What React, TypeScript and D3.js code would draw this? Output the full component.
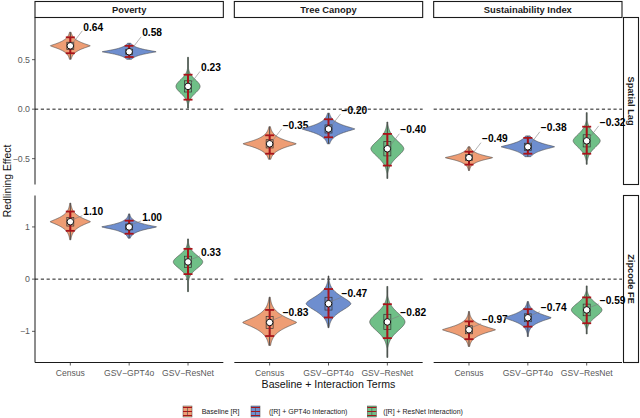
import React from "react";
import * as d3 from "d3";

// ---------- data ----------
const models = ["Spatial Lag", "Zipcode FE"];
const outcomes = ["Poverty", "Tree Canopy", "Sustainability Index"];
const categories = ["Census", "GSV\u2212GPT4o", "GSV\u2212ResNet"];
const legendLabels = ["Baseline [R]", "([R] + GPT4o Interaction)", "([R] + ResNet Interaction)"];
const fillColors = ["#EE9D74", "#6E8ECF", "#6FBF87"];

// per model, per outcome, per category
const meanValues = [
  [[0.64, 0.58, 0.23], [-0.35, -0.20, -0.40], [-0.49, -0.38, -0.32]],
  [[1.10, 1.00, 0.33], [-0.83, -0.47, -0.82], [-0.97, -0.74, -0.59]],
];
const ciLow = [
  [[0.565, 0.527, 0.096], [-0.45, -0.284, -0.57], [-0.56, -0.45, -0.45]],
  [[0.925, 0.87, 0.096], [-1.09, -0.735, -1.13], [-1.15, -0.91, -0.845]],
];
const ciHigh = [
  [[0.726, 0.64, 0.348], [-0.264, -0.102, -0.25], [-0.43, -0.29, -0.177]],
  [[1.295, 1.12, 0.58], [-0.59, -0.19, -0.48], [-0.81, -0.575, -0.35]],
];
const tailLow = [
  [[0.504, 0.504, 0.01], [-0.506, -0.35, -0.70], [-0.62, -0.48, -0.557]],
  [[0.753, 0.785, -0.24], [-1.27, -0.93, -1.5], [-1.29, -1.1, -1.05]],
];
const tailHigh = [
  [[0.777, 0.666, 0.524], [-0.177, -0.04, -0.13], [-0.38, -0.27, -0.035]],
  [[1.456, 1.25, 0.77], [-0.345, 0.06, -0.14], [-0.62, -0.43, -0.13]],
];
// maximal violin half-width as share of the category step
const violinWidth = [
  [[0.34, 0.46, 0.205], [0.455, 0.45, 0.28], [0.405, 0.455, 0.23]],
  [[0.345, 0.47, 0.25], [0.46, 0.38, 0.30], [0.45, 0.40, 0.26]],
];
// density peakedness (1 = sharp kite, 2 = rounded)
const violinShape = [
  [[1.2, 1.2, 1.9], [1.2, 1.2, 1.7], [1.2, 1.2, 1.7]],
  [[1.2, 1.2, 1.8], [1.25, 1.6, 1.8], [1.25, 1.25, 1.8]],
];
const yDomains = [[-0.761, 0.926], [-1.597, 1.602]];
const yTicks = [[-0.5, 0, 0.5], [-1, 0, 1]];
const yTickFormats = [".1f", ".0f"];

// ---------- layout ----------
const W = 640, H = 418;
const plotLeft = 35, plotRight = 622, colGap = 11;
const colW = (plotRight - plotLeft - 2 * colGap) / 3;
const rowTops = [17.5, 195.5];
const rowH = 167;
const FONT = "'Liberation Sans', Arial, Helvetica, sans-serif";
const fmtLabel = (v: number) => d3.format(".2f")(v).replace("-", "\u2212");
const errColor = "#A8141A";

function Violin({ cx, y, mean, lo, hi, tLo, tHi, hw, p, fill }: any) {
  const s = Math.abs(y(hi) - y(lo)) / 3.6;
  const y0 = y(tHi), y1 = y(tLo), ym = y(mean);
  const n = 90;
  const pts = d3.range(n + 1).map((i) => {
    const py = y0 + ((y1 - y0) * i) / n;
    const z = Math.abs(py - ym) / s;
    const w = Math.max(0.5, hw * Math.exp(-Math.pow(z, p) / p));
    return [py, w];
  });
  const area = d3
    .area<number[]>()
    .y((d) => d[0])
    .x0((d) => cx - d[1])
    .x1((d) => cx + d[1])
    .curve(d3.curveCatmullRom);
  return <path d={area(pts) || ""} fill={fill} stroke="#4a4a4a" strokeWidth={0.6} />;
}

export default function App() {
  const xScales = outcomes.map((_, c) =>
    d3
      .scalePoint<string>()
      .domain(categories)
      .range([plotLeft + c * (colW + colGap), plotLeft + c * (colW + colGap) + colW])
      .padding(0.6)
  );
  const step = xScales[0].step();
  const yScales = models.map((_, r) =>
    d3.scaleLinear().domain(yDomains[r]).range([rowTops[r] + rowH, rowTops[r]])
  );

  const legendX = [183, 251, 367.3];
  const legendTextX = [201.7, 269, 383.3];

  return (
    <svg width={W} height={H} style={{ display: "block", position: "absolute", left: 0, top: 0 }} fontFamily={FONT}>
      <rect width={W} height={H} fill="white" />
      {/* top strips */}
      {outcomes.map((o, c) => {
        const x0 = plotLeft + c * (colW + colGap);
        return (
          <g key={o}>
            <rect x={x0} y={1.5} width={colW} height={16} fill="white" stroke="#1a1a1a" strokeWidth={1.1} />
            <text x={x0 + colW / 2} y={12.8} textAnchor="middle" fontSize={9.4} fontWeight="bold" fill="#1a1a1a">
              {o}
            </text>
          </g>
        );
      })}
      {/* right strips */}
      {models.map((m, r) => (
        <g key={m}>
          <rect x={623.5} y={rowTops[r]} width={15} height={rowH} fill="white" stroke="#1a1a1a" strokeWidth={1.1} />
          <text
            transform={`translate(${627.6},${rowTops[r] + rowH / 2}) rotate(90)`}
            textAnchor="middle"
            fontSize={9.2}
            fontWeight="bold"
            fill="#1a1a1a"
          >
            {m}
          </text>
        </g>
      ))}
      {models.map((m, r) => {
        const y = yScales[r];
        return (
          <g key={"row" + m}>
            {/* y axis */}
            <line x1={plotLeft} x2={plotLeft} y1={rowTops[r]} y2={rowTops[r] + rowH} stroke="#1a1a1a" strokeWidth={1} />
            {yTicks[r].map((t) => (
              <g key={t}>
                <line x1={plotLeft - 3} x2={plotLeft} y1={y(t)} y2={y(t)} stroke="#333" strokeWidth={0.8} />
                <text x={plotLeft - 5} y={y(t) + 3} textAnchor="end" fontSize={8.8} fill="#5a5a5a">
                  {d3.format(yTickFormats[r])(t).replace("-", "\u2212")}
                </text>
              </g>
            ))}
            {outcomes.map((o, c) => {
              const x = xScales[c];
              const x0 = plotLeft + c * (colW + colGap);
              return (
                <g key={o}>
                  <line x1={x0} x2={x0 + colW} y1={y(0)} y2={y(0)} stroke="#000" strokeWidth={0.9} strokeDasharray="3.2,2.6" />
                  {categories.map((cat, k) => {
                    const cx = x(cat)!;
                    const mean = meanValues[r][c][k];
                    const lo = ciLow[r][c][k];
                    const hi = ciHigh[r][c][k];
                    const s = Math.abs(y(hi) - y(lo)) / 4;
                    const py = y(mean);
                    const tx = cx + 13;
                    const ty = py + (r === 0 ? -19 : -10);
                    return (
                      <g key={cat}>
                        <Violin
                          cx={cx}
                          y={y}
                          mean={mean}
                          lo={lo}
                          hi={hi}
                          tLo={tailLow[r][c][k]}
                          tHi={tailHigh[r][c][k]}
                          hw={violinWidth[r][c][k] * step}
                          p={violinShape[r][c][k]}
                          fill={fillColors[k]}
                        />
                        <line x1={cx} x2={cx} y1={y(tailHigh[r][c][k])} y2={y(tailLow[r][c][k])} stroke="#4a4a4a" strokeWidth={1} />
                        <rect x={cx - 3.5} y={py - 0.9 * s} width={7} height={1.8 * s} fill="none" stroke="#333" strokeWidth={0.7} />
                        <line x1={cx} x2={cx} y1={y(hi)} y2={y(lo)} stroke={errColor} strokeWidth={2} />
                        <line x1={cx - 4.5} x2={cx + 4.5} y1={y(hi)} y2={y(hi)} stroke={errColor} strokeWidth={1.8} />
                        <line x1={cx - 4.5} x2={cx + 4.5} y1={y(lo)} y2={y(lo)} stroke={errColor} strokeWidth={1.8} />
                        <circle cx={cx} cy={py} r={3.3} fill="white" stroke="#111" strokeWidth={1} />
                        <line x1={cx + 2} x2={tx - 1} y1={py - 2} y2={ty + 4} stroke="#808080" strokeWidth={0.6} />
                        <text x={tx} y={ty + 3.7} fontSize={10.2} fontWeight="bold" fill="#000">
                          {fmtLabel(mean)}
                        </text>
                      </g>
                    );
                  })}
                </g>
              );
            })}
          </g>
        );
      })}
      {/* x axes */}
      {outcomes.map((o, c) => {
        const x = xScales[c];
        const x0 = plotLeft + c * (colW + colGap);
        const yb = rowTops[1] + rowH;
        return (
          <g key={"xa" + o}>
            <line x1={x0} x2={x0 + colW} y1={yb} y2={yb} stroke="#1a1a1a" strokeWidth={1} />
            {categories.map((cat) => (
              <g key={cat}>
                <line x1={x(cat)!} x2={x(cat)!} y1={yb} y2={yb + 3} stroke="#333" strokeWidth={0.8} />
                <text x={x(cat)!} y={yb + 13.5} textAnchor="middle" fontSize={8.6} fill="#5a5a5a">
                  {cat}
                </text>
              </g>
            ))}
          </g>
        );
      })}
      <text x={(plotLeft + plotRight) / 2} y={388} textAnchor="middle" fontSize={10.6} fill="#111">
        Baseline + Interaction Terms
      </text>
      <text transform={`translate(10.5,181) rotate(-90)`} textAnchor="middle" fontSize={10.4} fill="#111">
        Redlining Effect
      </text>
      {/* legend */}
      {legendLabels.map((l, i) => (
        <g key={l}>
          <rect x={legendX[i]} y={406} width={9} height={11} fill={fillColors[i]} stroke="#4a4a4a" strokeWidth={0.5} />
          {[407.5, 411.5, 415.5].map((ly) => (
            <line key={ly} x1={legendX[i]} x2={legendX[i] + 9} y1={ly} y2={ly} stroke={errColor} strokeWidth={1} />
          ))}
          <line x1={legendX[i] + 4.5} x2={legendX[i] + 4.5} y1={407.5} y2={415.5} stroke="#4a4a4a" strokeWidth={0.6} />
          <text x={legendTextX[i]} y={414} fontSize={7} fill="#1a1a1a">
            {l}
          </text>
        </g>
      ))}
    </svg>
  );
}
